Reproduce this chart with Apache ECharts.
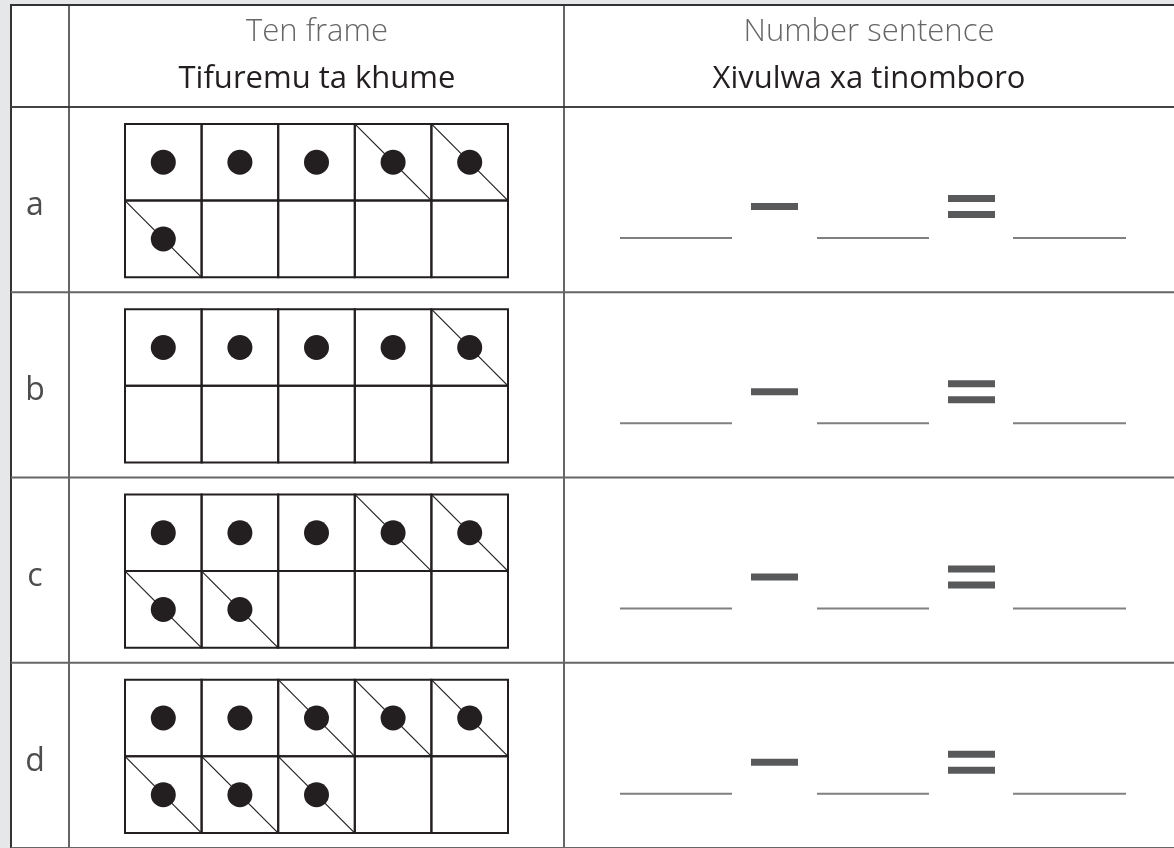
<!DOCTYPE html>
<html>
<head>
<meta charset="utf-8">
<script src="https://cdn.jsdelivr.net/npm/echarts@6/dist/echarts.min.js"></script>
<style>
  html, body { margin: 0; padding: 0; background: #e6e7e8; }
  #chart { width: 1174px; height: 848px; }
</style>
</head>
<body>
<div id="chart"></div>
<script>
// ---- data ----
const rowLabels = ['a', 'b', 'c', 'd'];
const dotCounts = [6, 5, 7, 8];          // dots in each ten frame
const crossedCounts = [3, 1, 4, 6];      // crossed-out (last) dots in each frame
const headerEnglish = ['Ten frame', 'Number sentence'];
const headerXitsonga = ['Tifuremu ta khume', 'Xivulwa xa tinomboro'];
const FRAME_COLS = 5;
const FRAME_ROWS = 2;

// ---- layout (styles, not data) ----
const ROW_PX = 186;
const FRAME_TOP = 17 / ROW_PX;     // frame top offset within a row (row units)
const CELL_H = 77 / ROW_PX;        // cell height (row units)
const INK = '#231f20';
const FONT = '"Open Sans", "Lato", sans-serif';

// build dot points
const dotPoints = [];
const diagCells = [];
rowLabels.forEach((lab, i) => {
  for (let k = 0; k < dotCounts[i]; k++) {
    const col = k % FRAME_COLS;
    const r = Math.floor(k / FRAME_COLS);
    dotPoints.push([col + 0.5, i + FRAME_TOP + (r + 0.5) * CELL_H]);
    if (k >= dotCounts[i] - crossedCounts[i]) {
      diagCells.push([col, i + FRAME_TOP + r * CELL_H]);
    }
  }
});

const chart = echarts.init(document.getElementById('chart'), null, { renderer: 'canvas' });

function textEl(str, x, y, size, color, weight, align) {
  return {
    type: 'text',
    style: {
      text: str, x: x, y: y,
      font: (weight || 300) + ' ' + size + 'px ' + FONT,
      fill: color, align: align || 'center', verticalAlign: 'middle'
    }
  };
}

const option = {
  animation: false,
  backgroundColor: '#e6e7e8',
  grid: { left: 125, top: 107, width: 383, height: 744 },
  xAxis: { type: 'value', min: 0, max: FRAME_COLS, show: false },
  yAxis: { type: 'value', min: 0, max: rowLabels.length, inverse: true, show: false },
  graphic: {
    elements: [
      { type: 'rect', z: -10, shape: { x: 11, y: 5, width: 1200, height: 900 },
        style: { fill: '#ffffff', stroke: '#333333', lineWidth: 2 } },
      { type: 'line', z: -5, shape: { x1: 11, y1: 107, x2: 1174, y2: 107 },
        style: { stroke: '#444444', lineWidth: 2 } },
      { type: 'line', z: -5, shape: { x1: 69, y1: 5, x2: 69, y2: 848 },
        style: { stroke: '#333333', lineWidth: 1.5 } },
      { type: 'line', z: -5, shape: { x1: 564, y1: 5, x2: 564, y2: 848 },
        style: { stroke: '#333333', lineWidth: 1.5 } },
      textEl(headerEnglish[0], 317, 32, 31, '#666666', 300),
      textEl(headerXitsonga[0], 317, 79, 31, INK, 400),
      textEl(headerEnglish[1], 869, 32, 31, '#666666', 300),
      textEl(headerXitsonga[1], 869, 79, 31, INK, 400)
    ]
  },
  series: [
    {
      // row structure: separators, labels, blanks and signs
      type: 'custom',
      z: 1,
      clip: false,
      data: rowLabels.map((l, i) => [i]),
      renderItem: function (params, api) {
        const i = api.value(0);
        const top = api.coord([0, i])[1];
        const h = api.size([0, 1])[1];
        const children = [];
        children.push({ type: 'line', shape: { x1: 11, y1: top + h, x2: 1174, y2: top + h },
          style: { stroke: '#666666', lineWidth: 2 } });
        children.push(textEl(rowLabels[i], 35, top + 99, 32, '#4d4d4d', 400));
        [[620, 732], [817, 929], [1013, 1126]].forEach(b => {
          children.push({ type: 'line', shape: { x1: b[0], y1: top + 131, x2: b[1], y2: top + 131 },
            style: { stroke: '#808080', lineWidth: 2 } });
        });
        children.push({ type: 'rect', shape: { x: 751, y: top + 96, width: 47, height: 7 },
          style: { fill: '#58595b' } });
        children.push({ type: 'rect', shape: { x: 948, y: top + 88, width: 47, height: 7 },
          style: { fill: '#58595b' } });
        children.push({ type: 'rect', shape: { x: 948, y: top + 104, width: 47, height: 7 },
          style: { fill: '#58595b' } });
        return { type: 'group', children: children };
      }
    },
    {
      // ten frame cells
      type: 'custom',
      z: 2,
      clip: false,
      data: rowLabels.map((l, i) => [i]),
      renderItem: function (params, api) {
        const i = api.value(0);
        const children = [];
        for (let r = 0; r < FRAME_ROWS; r++) {
          for (let c = 0; c < FRAME_COLS; c++) {
            const p0 = api.coord([c, i + FRAME_TOP + r * CELL_H]);
            const p1 = api.coord([c + 1, i + FRAME_TOP + (r + 1) * CELL_H]);
            children.push({ type: 'rect',
              shape: { x: p0[0], y: p0[1], width: p1[0] - p0[0], height: p1[1] - p0[1] },
              style: { fill: 'none', stroke: INK, lineWidth: 2 } });
          }
        }
        return { type: 'group', children: children };
      }
    },
    {
      // diagonal strokes for crossed-out dots
      type: 'custom',
      z: 3,
      clip: false,
      data: diagCells,
      renderItem: function (params, api) {
        const p0 = api.coord([api.value(0), api.value(1)]);
        const p1 = api.coord([api.value(0) + 1, api.value(1) + CELL_H]);
        return { type: 'line', shape: { x1: p0[0], y1: p0[1], x2: p1[0], y2: p1[1] },
          style: { stroke: INK, lineWidth: 1.2 } };
      }
    },
    {
      type: 'scatter',
      z: 4,
      symbol: 'circle',
      symbolSize: 25,
      itemStyle: { color: INK, opacity: 1 },
      silent: true,
      data: dotPoints
    }
  ]
};
chart.setOption(option);
</script>
</body>
</html>
